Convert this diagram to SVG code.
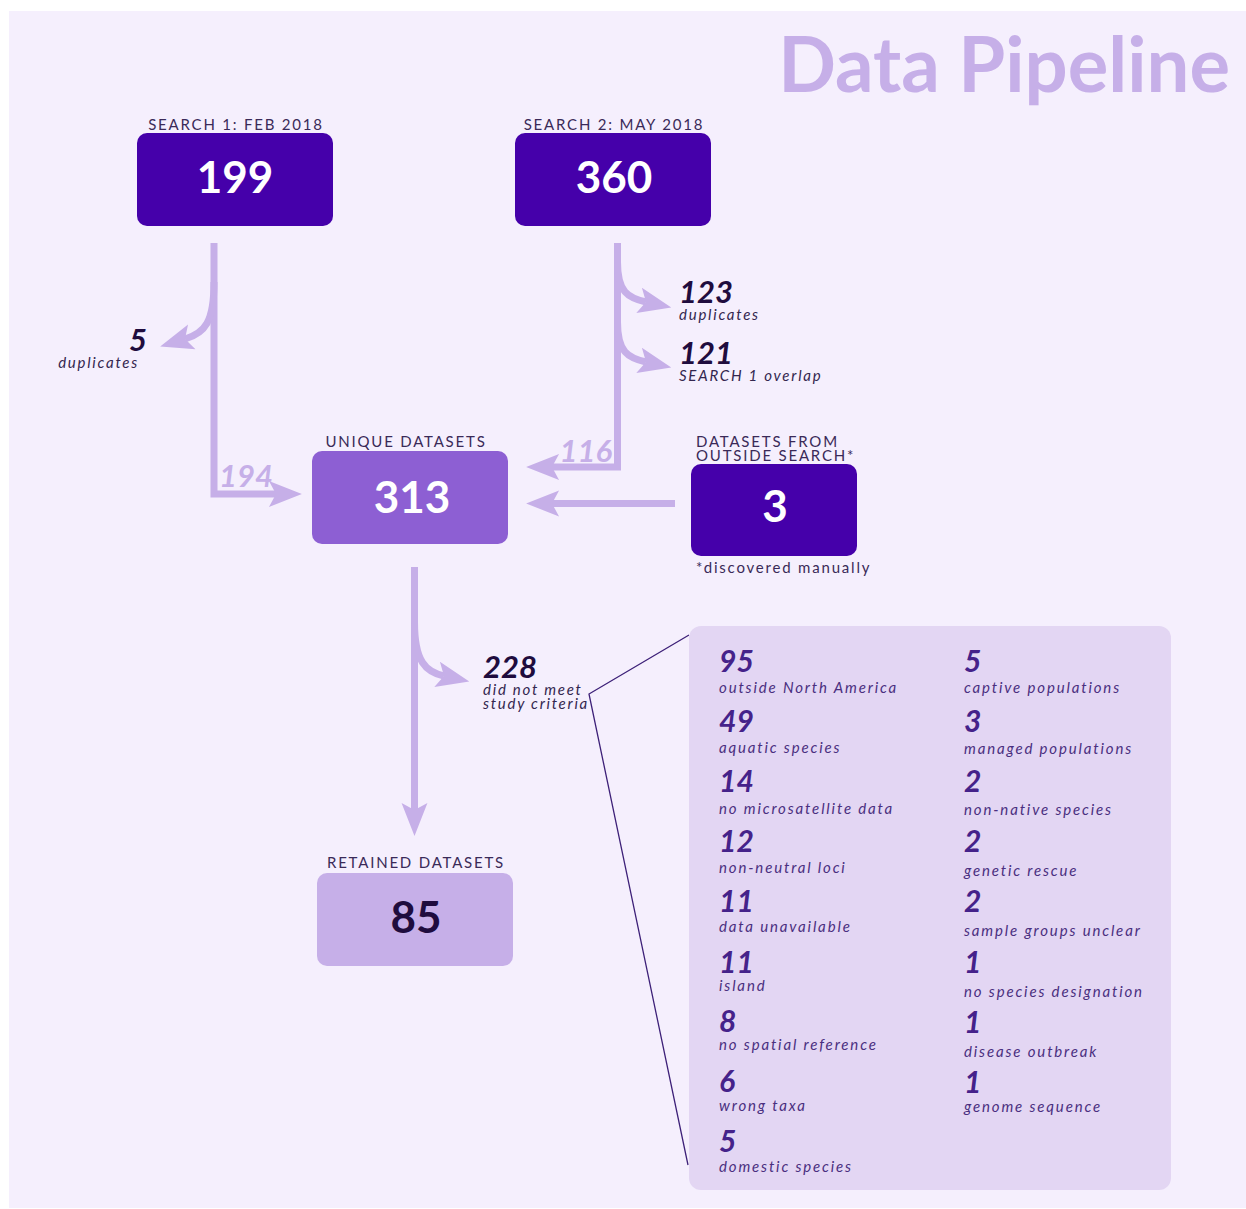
<svg xmlns="http://www.w3.org/2000/svg" width="1246" height="1209" viewBox="0 0 1246 1209">
  <defs>
    <style>
      .lato { font-family: Lato, "Open Sans", "Liberation Sans", sans-serif; }
      .cap { font-family: Lato, "Liberation Sans", sans-serif; font-size: 15px; letter-spacing: 1.8px; fill: #3a2a58; }
      .big { font-family: Lato, "Liberation Sans", sans-serif; font-size: 44px; font-weight: 700; text-anchor: middle; }
      .flowNum { font-family: Lato, "Liberation Sans", sans-serif; font-size: 31px; font-weight: 700; font-style: italic; fill: #1f0c3e; }
      .flowLbl { font-family: Lato, "Liberation Sans", sans-serif; font-size: 15px; font-style: italic; letter-spacing: 1.75px; fill: #33264f; }
      .ghost { font-family: Lato, "Liberation Sans", sans-serif; font-size: 31px; font-weight: 700; font-style: italic; fill: #c6afe8; }
      .rNum { font-family: Lato, "Liberation Sans", sans-serif; font-size: 30px; font-weight: 700; font-style: italic; fill: #45228a; }
      .rLbl { font-family: Lato, "Liberation Sans", sans-serif; font-size: 15px; font-style: italic; letter-spacing: 1.85px; fill: #4a2f80; }
      .flow { fill: none; stroke: #c6afe8; stroke-width: 7; marker-end: url(#head); }
      .dark { fill: #4500aa; }
    </style>
    <marker id="head" markerUnits="userSpaceOnUse" markerWidth="40" markerHeight="40" refX="0" refY="0" viewBox="-8 -14 34 28" orient="auto" overflow="visible">
      <path d="M-6,-11 L22,0 L-6,11 L0,0 Z" fill="#c6afe8"/>
    </marker>
  </defs>

  <!-- canvas -->
  <rect x="0" y="0" width="1246" height="1209" fill="#ffffff"/>
  <rect x="9" y="11" width="1237" height="1197" fill="#f5effd"/>

  <text x="1230" y="92" class="lato" font-size="76" font-weight="700" fill="#c6afe8" text-anchor="end">Data Pipeline</text>

  <!-- connectors -->
  <g id="connectors">
    <path class="flow" d="M214,243 V494 H276"/>
    <path class="flow" d="M214,282 C214,322 205,333 185,339"/>
    <path class="flow" d="M617.5,243 V467 H552"/>
    <path class="flow" d="M617.5,262 C617.5,292 628,298 646,302"/>
    <path class="flow" d="M617.5,322 C617.5,352 628,358 646,362"/>
    <path class="flow" d="M675,503.5 H552"/>
    <path class="flow" d="M414.5,567 V810"/>
    <path class="flow" d="M414.5,622 C414.5,662 426,672 444,676"/>
    <!-- callout to breakdown panel -->
    <polyline points="689,635 589,694 688,1165" fill="none" stroke="#3d2078" stroke-width="1.3"/>
  </g>

  <!-- flow labels -->
  <g id="flow-labels">
    <text x="147" y="351" class="flowNum" text-anchor="end">5</text>
    <text x="139" y="368" class="flowLbl" text-anchor="end">duplicates</text>
    <text x="679" y="303" class="flowNum">123</text>
    <text x="679" y="320" class="flowLbl">duplicates</text>
    <text x="679" y="364" class="flowNum">121</text>
    <text x="679" y="381" class="flowLbl">SEARCH 1 overlap</text>
    <text x="612" y="462" class="ghost" text-anchor="end">116</text>
    <text x="219" y="487" class="ghost">194</text>
    <text x="483" y="678" class="flowNum">228</text>
    <text x="483" y="695" class="flowLbl">did not meet</text>
    <text x="483" y="709" class="flowLbl">study criteria</text>
  </g>

  <g id="search1">
    <text x="236" y="130" class="cap" text-anchor="middle">SEARCH 1: FEB 2018</text>
    <rect x="137" y="133" width="196" height="93" rx="10" class="dark"/>
    <text x="235" y="193" class="big" fill="#ffffff">199</text>
  </g>

  <g id="search2">
    <text x="614" y="130" class="cap" text-anchor="middle">SEARCH 2: MAY 2018</text>
    <rect x="515" y="133" width="196" height="93" rx="10" class="dark"/>
    <text x="614" y="193" class="big" fill="#ffffff">360</text>
  </g>

  <g id="unique">
    <text x="406" y="447" class="cap" text-anchor="middle">UNIQUE DATASETS</text>
    <rect x="312" y="451" width="196" height="93" rx="10" fill="#8d5fd3"/>
    <text x="412" y="513" class="big" fill="#ffffff">313</text>
  </g>

  <g id="outside">
    <text x="696" y="447" class="cap">DATASETS FROM</text>
    <text x="696" y="461" class="cap">OUTSIDE SEARCH*</text>
    <rect x="691" y="464" width="166" height="92" rx="10" class="dark"/>
    <text x="775" y="522" class="big" fill="#ffffff">3</text>
    <text x="696" y="573" class="cap">*discovered manually</text>
  </g>

  <g id="retained">
    <text x="416" y="868" class="cap" text-anchor="middle">RETAINED DATASETS</text>
    <rect x="317" y="873" width="196" height="93" rx="10" fill="#c6afe8"/>
    <text x="416" y="933" class="big" fill="#1f0c3e">85</text>
  </g>

  <g id="criteria">
    <rect x="689" y="626" width="482" height="564" rx="12" fill="#e3d6f3"/>
    <text x="719" y="672" class="rNum">95</text>
    <text x="719" y="693" class="rLbl">outside North America</text>
    <text x="719" y="732" class="rNum">49</text>
    <text x="719" y="753" class="rLbl">aquatic species</text>
    <text x="719" y="792" class="rNum">14</text>
    <text x="719" y="814" class="rLbl">no microsatellite data</text>
    <text x="719" y="852" class="rNum">12</text>
    <text x="719" y="873" class="rLbl">non-neutral loci</text>
    <text x="719" y="912" class="rNum">11</text>
    <text x="719" y="932" class="rLbl">data unavailable</text>
    <text x="719" y="973" class="rNum">11</text>
    <text x="719" y="991" class="rLbl">island</text>
    <text x="719" y="1032" class="rNum">8</text>
    <text x="719" y="1050" class="rLbl">no spatial reference</text>
    <text x="719" y="1092" class="rNum">6</text>
    <text x="719" y="1111" class="rLbl">wrong taxa</text>
    <text x="719" y="1152" class="rNum">5</text>
    <text x="719" y="1172" class="rLbl">domestic species</text>

    <text x="964" y="672" class="rNum">5</text>
    <text x="964" y="693" class="rLbl">captive populations</text>
    <text x="964" y="732" class="rNum">3</text>
    <text x="964" y="754" class="rLbl">managed populations</text>
    <text x="964" y="792" class="rNum">2</text>
    <text x="964" y="815" class="rLbl">non-native species</text>
    <text x="964" y="852" class="rNum">2</text>
    <text x="964" y="876" class="rLbl">genetic rescue</text>
    <text x="964" y="912" class="rNum">2</text>
    <text x="964" y="936" class="rLbl">sample groups unclear</text>
    <text x="964" y="973" class="rNum">1</text>
    <text x="964" y="997" class="rLbl">no species designation</text>
    <text x="964" y="1033" class="rNum">1</text>
    <text x="964" y="1057" class="rLbl">disease outbreak</text>
    <text x="964" y="1093" class="rNum">1</text>
    <text x="964" y="1112" class="rLbl">genome sequence</text>
  </g>
</svg>
